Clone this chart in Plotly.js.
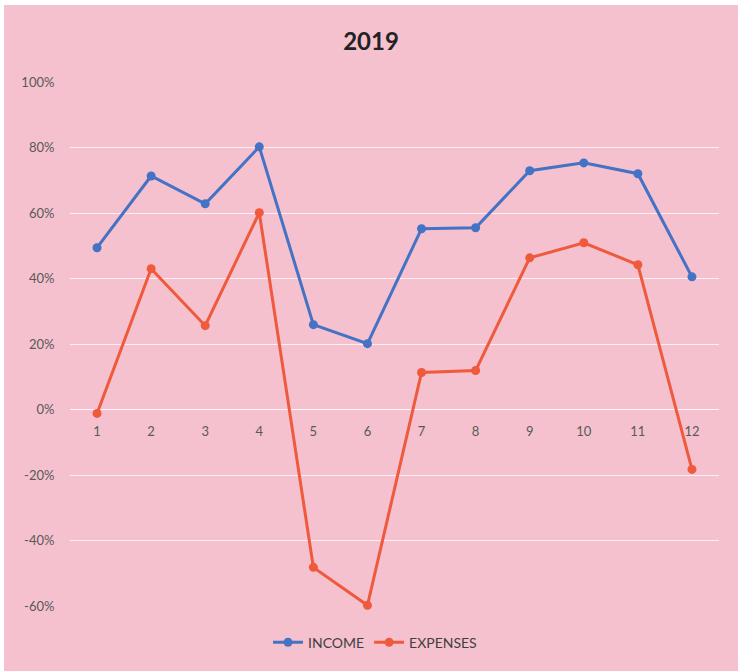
<!DOCTYPE html>
<html>
<head>
<meta charset="utf-8">
<script src="https://cdn.plot.ly/plotly-3.0.1.min.js"></script>
<style>
html,body{margin:0;padding:0;background:#ffffff;}
#chart{position:absolute;left:4px;top:5px;width:734px;height:666px;}
</style>
</head>
<body>
<div id="chart"></div>
<script>
const months = ["1","2","3","4","5","6","7","8","9","10","11","12"];
const income = [0.494, 0.713, 0.628, 0.802, 0.259, 0.201, 0.552, 0.555, 0.729, 0.753, 0.720, 0.405];
const expenses = [-0.012, 0.430, 0.256, 0.601, -0.482, -0.598, 0.113, 0.119, 0.463, 0.509, 0.442, -0.183];
const yTicks = [-0.6, -0.4, -0.2, 0, 0.2, 0.4, 0.6, 0.8, 1.0];
const yTickText = ["-60%","-40%","-20%","0%","20%","40%","60%","80%","100%"];

const blue = "#4472C4";
const orange = "#EE5A3B";

const traces = [
  {x: months, y: income, name: "INCOME", type: "scatter", mode: "lines+markers", cliponaxis: false,
   line: {color: blue, width: 3}, marker: {color: blue, size: 9}},
  {x: months, y: expenses, name: "EXPENSES", type: "scatter", mode: "lines+markers", cliponaxis: false,
   line: {color: orange, width: 3}, marker: {color: orange, size: 9}}
];

const layout = {
  width: 734, height: 666,
  paper_bgcolor: "#F5C1CE",
  plot_bgcolor: "rgba(0,0,0,0)",
  margin: {l: 66, r: 19, t: 77, b: 59},
  font: {family: "Lato, 'Open Sans', sans-serif", color: "#595959", size: 13},
  title: {text: "<b>2019</b>", font: {size: 24, color: "#222222", family: "Lato, 'Open Sans', sans-serif"},
          x: 0.5, xref: "container", y: 0.945, yref: "container", yanchor: "middle"},
  xaxis: {type: "category", range: [-0.5, 11.5], anchor: "free", position: 0.375,
          showgrid: false, showline: false, zeroline: false,
          ticks: "outside", ticklen: 10, tickcolor: "rgba(0,0,0,0)",
          tickfont: {size: 13, color: "#595959"}},
  yaxis: {range: [-0.6, 1.0], tickvals: yTicks, ticktext: yTickText,
          showgrid: true, gridcolor: "rgba(255,255,255,0.75)", gridwidth: 1,
          zeroline: true, zerolinecolor: "rgba(255,255,255,0.85)", zerolinewidth: 1,
          showline: false, ticks: "outside", ticklen: 12, tickcolor: "rgba(0,0,0,0)",
          tickfont: {size: 13, color: "#595959"}},
  showlegend: true,
  legend: {orientation: "h", x: 0.47, xanchor: "center", y: -0.07, yanchor: "middle",
           font: {size: 14, color: "#404040"}, bgcolor: "rgba(0,0,0,0)"}
};

Plotly.newPlot("chart", traces, layout, {displayModeBar: false, staticPlot: true});
</script>
</body>
</html>
